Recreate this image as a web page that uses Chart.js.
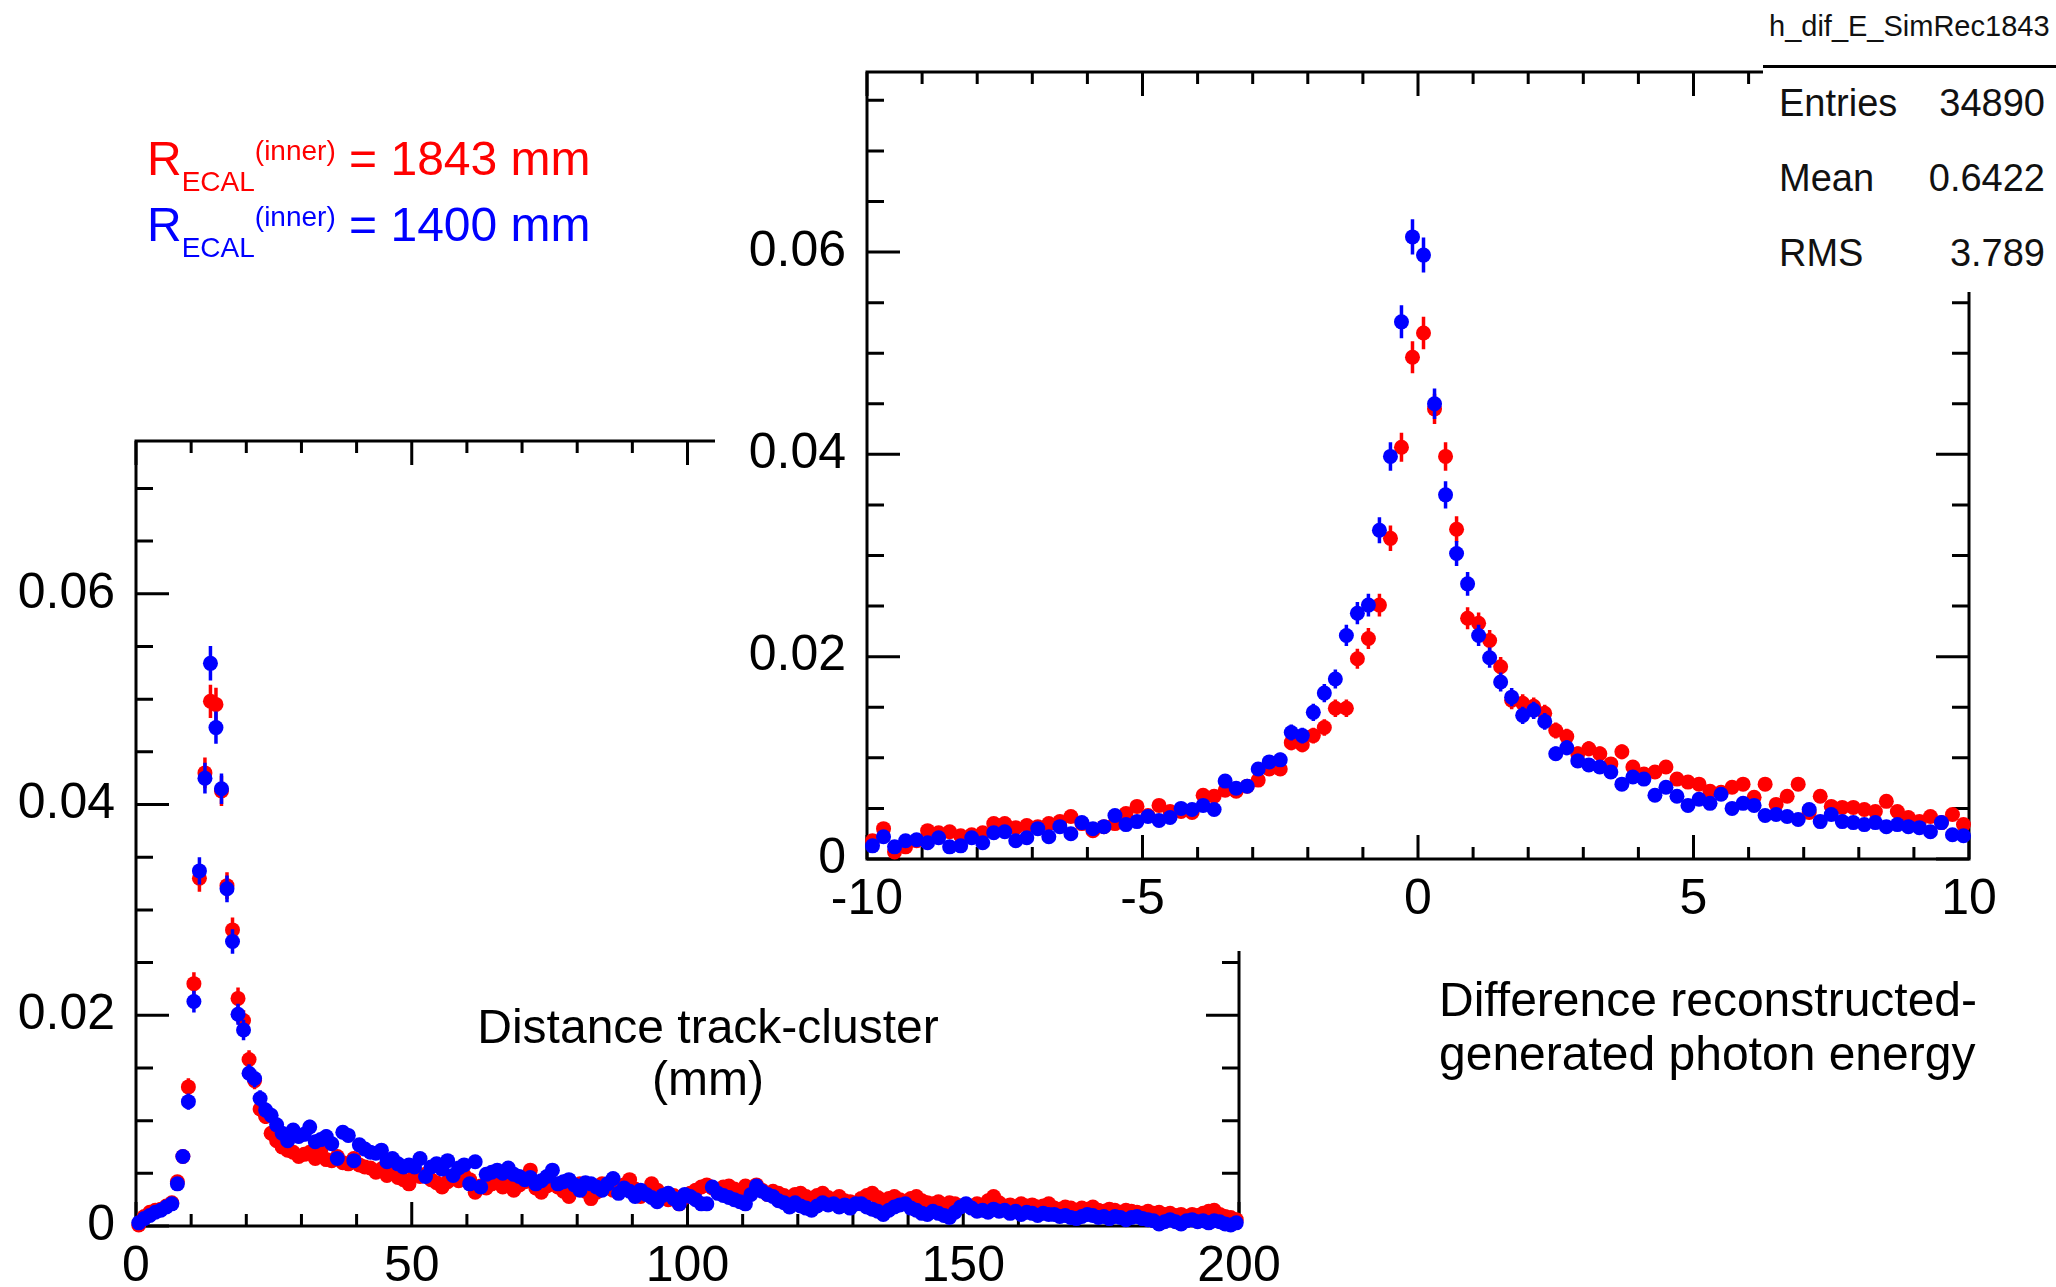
<!DOCTYPE html>
<html>
<head>
<meta charset="utf-8">
<script src="https://cdn.jsdelivr.net/npm/chart.js@4.4.1/dist/chart.umd.min.js"></script>
<style>
  body { margin: 0; background: #fff; font-family: 'Liberation Sans', Arial, sans-serif; }
  #page { position: relative; width: 2056px; height: 1287px; overflow: hidden; background: #fff; }
  .abs { position: absolute; white-space: nowrap; }
  .legend { font-size: 48px; line-height: 48px; }
  .legend .lo { position: relative; top: 16px; font-size: 28px; }
  .legend .hi { position: relative; top: -15px; font-size: 28px; }
  .note { font-size: 48px; color: #000; }
  .stat { font-size: 38px; line-height: 38px; color: #111; }
</style>
</head>
<body>
<div id="page">
  <canvas id="distPlot" class="abs" style="left:0;top:0" width="2056" height="1287"></canvas>

  <div class="abs legend" style="left:147px;top:135px;color:#ff0000">R<span class="lo">ECAL</span><span class="hi">(inner)</span> = 1843 mm</div>
  <div class="abs legend" style="left:147px;top:201px;color:#0000ff">R<span class="lo">ECAL</span><span class="hi">(inner)</span> = 1400 mm</div>

  <div class="abs note" style="left:458px;top:1001px;width:500px;text-align:center;line-height:52px">Distance track-cluster<br>(mm)</div>

  <div class="abs" style="left:715px;top:0;width:1341px;height:951px;background:#fff">
    <canvas id="energyPlot" width="1341" height="951"></canvas>
  </div>

  <div class="abs" style="left:1763px;top:0;width:293px;height:292px;background:#fff"></div>
  <div class="abs" style="left:1763px;top:65px;width:293px;height:3px;background:#000"></div>
  <div class="abs" style="left:1769px;top:12px;font-size:29px;line-height:29px;color:#111">h_dif_E_SimRec1843</div>
  <div class="abs stat" style="left:1779px;top:84px">Entries</div>
  <div class="abs stat" style="right:11px;top:84px">34890</div>
  <div class="abs stat" style="left:1779px;top:159px">Mean</div>
  <div class="abs stat" style="right:11px;top:159px">0.6422</div>
  <div class="abs stat" style="left:1779px;top:234px">RMS</div>
  <div class="abs stat" style="right:11px;top:234px">3.789</div>

  <div class="abs note" style="left:1439px;top:973px;line-height:54px">Difference reconstructed-<br>generated photon energy</div>
</div>

<script>
// distance track-cluster, 1 mm bins from 0 to 200
const distXMin = 0;
const distBinW = 1;
const distTicksX = [0, 50, 100, 150, 200];
const distTicksY = [0, 0.02, 0.04, 0.06];

const dist1400 = [
  0.0003, 0.0007, 0.0010, 0.0013, 0.0015, 0.0018, 0.0021, 0.0040, 0.0066, 0.0118,
  0.0213, 0.0337, 0.0425, 0.0534, 0.0473, 0.0415, 0.0320, 0.0270, 0.0201, 0.0186,
  0.0145, 0.0140, 0.0121, 0.0110, 0.0105, 0.0096, 0.0088, 0.0081, 0.0091, 0.0085,
  0.0087, 0.0094, 0.0080, 0.0082, 0.0085, 0.0078, 0.0064, 0.0089, 0.0086, 0.0062,
  0.0077, 0.0073, 0.0070, 0.0069, 0.0072, 0.0061, 0.0064, 0.0059, 0.0056, 0.0058,
  0.0056, 0.0064, 0.0047, 0.0056, 0.0059, 0.0054, 0.0062, 0.0048, 0.0055, 0.0058,
  0.0040, 0.0061, 0.0037, 0.0049, 0.0051, 0.0053, 0.0050, 0.0055, 0.0049, 0.0047,
  0.0044, 0.0046, 0.0040, 0.0043, 0.0047, 0.0053, 0.0040, 0.0042, 0.0044, 0.0039,
  0.0034, 0.0041, 0.0040, 0.0037, 0.0034, 0.0040, 0.0045, 0.0031, 0.0036, 0.0033,
  0.0028, 0.0034, 0.0030, 0.0027, 0.0023, 0.0029, 0.0031, 0.0026, 0.0021, 0.0030,
  0.0028, 0.0025, 0.0021, 0.0021, 0.0037, 0.0031, 0.0029, 0.0027, 0.0025, 0.0023,
  0.0021, 0.0030, 0.0038, 0.0033, 0.0030, 0.0028, 0.0024, 0.0022, 0.0018, 0.0022,
  0.0019, 0.0017, 0.0015, 0.0019, 0.0022, 0.0020, 0.0021, 0.0018, 0.0020, 0.0017,
  0.0021, 0.0021, 0.0018, 0.0016, 0.0014, 0.0011, 0.0015, 0.0018, 0.0020, 0.0021,
  0.0017, 0.0015, 0.0012, 0.0011, 0.0014, 0.0012, 0.0010, 0.0008, 0.0013, 0.0018,
  0.0021, 0.0017, 0.0014, 0.0015, 0.0013, 0.0016, 0.0014, 0.0015, 0.0012, 0.0014,
  0.0011, 0.0013, 0.0012, 0.0010, 0.0012, 0.0011, 0.0011, 0.0009, 0.0010, 0.0008,
  0.0007, 0.0009, 0.0011, 0.0010, 0.0008, 0.0009, 0.0007, 0.0009, 0.0008, 0.0006,
  0.0008, 0.0009, 0.0007, 0.0006, 0.0005, 0.0002, 0.0004, 0.0006, 0.0004, 0.0002,
  0.0005, 0.0006, 0.0004, 0.0005, 0.0003, 0.0005, 0.0004, 0.0002, 0.0001, 0.0003
];

const dist1843 = [
  0.0001, 0.0009, 0.0013, 0.0015, 0.0016, 0.0019, 0.0022, 0.0042, 0.0066, 0.0132,
  0.0230, 0.0330, 0.0430, 0.0498, 0.0495, 0.0413, 0.0323, 0.0281, 0.0216, 0.0195,
  0.0158, 0.0138, 0.0111, 0.0104, 0.0088, 0.0081, 0.0075, 0.0072, 0.0070, 0.0066,
  0.0068, 0.0070, 0.0064, 0.0072, 0.0063, 0.0062, 0.0066, 0.0060, 0.0059, 0.0064,
  0.0058, 0.0056, 0.0055, 0.0051, 0.0054, 0.0048, 0.0050, 0.0046, 0.0044, 0.0040,
  0.0052, 0.0047, 0.0049, 0.0044, 0.0041, 0.0037, 0.0042, 0.0045, 0.0043, 0.0048,
  0.0044, 0.0032, 0.0038, 0.0036, 0.0040, 0.0043, 0.0037, 0.0041, 0.0034, 0.0039,
  0.0042, 0.0053, 0.0036, 0.0032, 0.0038, 0.0041, 0.0037, 0.0033, 0.0028, 0.0035,
  0.0040, 0.0033, 0.0026, 0.0032, 0.0040, 0.0037, 0.0034, 0.0036, 0.0039, 0.0044,
  0.0035, 0.0028, 0.0033, 0.0040, 0.0034, 0.0030, 0.0025, 0.0029, 0.0021, 0.0027,
  0.0031, 0.0034, 0.0037, 0.0039, 0.0036, 0.0033, 0.0037, 0.0038, 0.0035, 0.0032,
  0.0038, 0.0036, 0.0039, 0.0034, 0.0030, 0.0033, 0.0031, 0.0029, 0.0027, 0.0030,
  0.0031, 0.0028, 0.0026, 0.0029, 0.0031, 0.0027, 0.0025, 0.0028, 0.0024, 0.0023,
  0.0021, 0.0026, 0.0029, 0.0031, 0.0027, 0.0024, 0.0026, 0.0028, 0.0025, 0.0023,
  0.0026, 0.0028, 0.0024, 0.0022, 0.0021, 0.0023, 0.0020, 0.0022, 0.0021, 0.0019,
  0.0020, 0.0018, 0.0021, 0.0019, 0.0024, 0.0028, 0.0022, 0.0019, 0.0020, 0.0018,
  0.0021, 0.0019, 0.0020, 0.0018, 0.0019, 0.0021, 0.0017, 0.0016, 0.0018, 0.0017,
  0.0015, 0.0017, 0.0016, 0.0018, 0.0015, 0.0014, 0.0016, 0.0015, 0.0013, 0.0015,
  0.0014, 0.0013, 0.0012, 0.0014, 0.0012, 0.0013, 0.0011, 0.0012, 0.0010, 0.0011,
  0.0009, 0.0011, 0.0010, 0.0012, 0.0014, 0.0015, 0.0011, 0.0009, 0.0008, 0.0006
];

// reconstructed - generated photon energy, 0.2 bins from -10 to 10
const eXMin = -10;
const eBinW = 0.2;
const eTicksX = [-10, -5, 0, 5, 10];
const eTicksY = [0, 0.02, 0.04, 0.06];

const e1400 = [
  0.0013, 0.0022, 0.0012, 0.0018, 0.0019, 0.0016, 0.0021, 0.0012, 0.0013, 0.0021,
  0.0016, 0.0026, 0.0027, 0.0018, 0.0021, 0.0030, 0.0022, 0.0032, 0.0025, 0.0036,
  0.0030, 0.0032, 0.0043, 0.0034, 0.0037, 0.0042, 0.0038, 0.0041, 0.0050, 0.0049,
  0.0053, 0.0049, 0.0077, 0.0070, 0.0072, 0.0089, 0.0096, 0.0098, 0.0125, 0.0122,
  0.0145, 0.0164, 0.0178, 0.0221, 0.0243, 0.0251, 0.0325, 0.0398, 0.0531, 0.0615,
  0.0597, 0.0450, 0.0360, 0.0302, 0.0272, 0.0221, 0.0199, 0.0175, 0.0160, 0.0142,
  0.0147, 0.0136, 0.0104, 0.0110, 0.0097, 0.0093, 0.0091, 0.0086, 0.0074, 0.0081,
  0.0079, 0.0063, 0.0071, 0.0062, 0.0053, 0.0059, 0.0055, 0.0064, 0.0050, 0.0055,
  0.0053, 0.0043, 0.0044, 0.0042, 0.0039, 0.0049, 0.0037, 0.0044, 0.0037, 0.0036,
  0.0034, 0.0036, 0.0032, 0.0034, 0.0032, 0.0031, 0.0027, 0.0036, 0.0024, 0.0023
];

const e1843 = [
  0.0018, 0.0030, 0.0007, 0.0012, 0.0018, 0.0028, 0.0026, 0.0027, 0.0023, 0.0024,
  0.0026, 0.0035, 0.0035, 0.0031, 0.0033, 0.0032, 0.0035, 0.0037, 0.0042, 0.0035,
  0.0028, 0.0032, 0.0035, 0.0045, 0.0052, 0.0043, 0.0053, 0.0047, 0.0047, 0.0046,
  0.0063, 0.0062, 0.0068, 0.0067, 0.0072, 0.0078, 0.0089, 0.0089, 0.0115, 0.0113,
  0.0122, 0.0130, 0.0149, 0.0149, 0.0198, 0.0218, 0.0251, 0.0317, 0.0407, 0.0496,
  0.0520, 0.0445, 0.0398, 0.0326, 0.0238, 0.0233, 0.0216, 0.0190, 0.0157, 0.0154,
  0.0151, 0.0144, 0.0127, 0.0121, 0.0104, 0.0109, 0.0104, 0.0094, 0.0106, 0.0091,
  0.0084, 0.0086, 0.0091, 0.0079, 0.0076, 0.0074, 0.0067, 0.0066, 0.0071, 0.0074,
  0.0061, 0.0074, 0.0054, 0.0062, 0.0074, 0.0046, 0.0062, 0.0052, 0.0051, 0.0051,
  0.0049, 0.0047, 0.0057, 0.0047, 0.0041, 0.0037, 0.0042, 0.0036, 0.0044, 0.0034
];

// effective count for the poisson error bars of the normalised histograms
const errCount = 20000;

Chart.defaults.font.family = "'Liberation Sans', Arial, sans-serif";
Chart.defaults.color = "#000";

function toPoints(values, xMin, binW) {
  return values.map((v, i) => ({ x: xMin + (i + 0.5) * binW, y: v }));
}

// ROOT style box with ticks pointing inwards on all four sides
const rootFrame = {
  id: "rootFrame",
  beforeDatasetsDraw(chart, args, opts) {
    const { ctx, chartArea: a, scales } = chart;
    const x = scales.x, y = scales.y;
    ctx.save();
    ctx.strokeStyle = "#000";
    ctx.lineWidth = 3;
    ctx.beginPath();
    for (let i = Math.ceil(x.min / opts.xMinor - 1e-9); i * opts.xMinor <= x.max + 1e-9; i++) {
      const v = i * opts.xMinor;
      const px = x.getPixelForValue(v);
      const big = Math.abs(v / opts.xMajor - Math.round(v / opts.xMajor)) < 1e-6;
      const len = big ? opts.xMajLen : opts.xMinLen;
      ctx.moveTo(px, a.bottom); ctx.lineTo(px, a.bottom - len);
      ctx.moveTo(px, a.top); ctx.lineTo(px, a.top + len);
    }
    for (let i = Math.ceil(y.min / opts.yMinor - 1e-9); i * opts.yMinor <= y.max + 1e-9; i++) {
      const v = i * opts.yMinor;
      const py = y.getPixelForValue(v);
      const big = Math.abs(v / opts.yMajor - Math.round(v / opts.yMajor)) < 1e-6;
      const len = big ? opts.yMajLen : opts.yMinLen;
      ctx.moveTo(a.left, py); ctx.lineTo(a.left + len, py);
      ctx.moveTo(a.right, py); ctx.lineTo(a.right - len, py);
    }
    ctx.stroke();
    ctx.strokeRect(a.left, a.top, a.right - a.left, a.bottom - a.top);
    ctx.restore();
  }
};

const errorBars = {
  id: "errorBars",
  beforeDatasetDraw(chart, args, opts) {
    const ds = chart.data.datasets[args.index];
    const { ctx, scales } = chart;
    ctx.save();
    ctx.strokeStyle = ds.backgroundColor;
    ctx.lineWidth = opts.width;
    ctx.beginPath();
    ds.data.forEach((p) => {
      const e = Math.sqrt(Math.max(p.y, 0) / opts.n);
      const px = scales.x.getPixelForValue(p.x);
      ctx.moveTo(px, scales.y.getPixelForValue(p.y - e));
      ctx.lineTo(px, scales.y.getPixelForValue(p.y + e));
    });
    ctx.stroke();
    ctx.restore();
  }
};

function makePlot(id, blue, red, xMin, binW, s) {
  const series = (vals, col) => ({
    data: toPoints(vals, xMin, binW),
    backgroundColor: col,
    borderWidth: 0,
    pointRadius: 7.5,
    pointHoverRadius: 7.5,
    showLine: false,
    clip: false
  });
  return new Chart(document.getElementById(id), {
    type: "scatter",
    data: { datasets: [series(blue, "#0000ff"), series(red, "#ff0000")] },
    options: {
      responsive: false,
      animation: false,
      events: [],
      layout: { padding: s.padding },
      plugins: {
        legend: { display: false },
        tooltip: { enabled: false },
        rootFrame: s.frame,
        errorBars: { n: errCount, width: 3.5 }
      },
      scales: {
        x: {
          type: "linear", min: s.xRange[0], max: s.xRange[1],
          grid: { display: false, drawTicks: false }, border: { display: false },
          afterBuildTicks: (ax) => { ax.ticks = s.xTicks.map((v) => ({ value: v })); },
          afterFit: (ax) => { ax.height = s.xHeight; },
          ticks: { font: { size: 50 }, color: "#000", padding: 11, maxRotation: 0, autoSkip: false,
                   callback: (v) => String(v) }
        },
        y: {
          type: "linear", min: 0, max: s.yMax,
          grid: { display: false, drawTicks: false }, border: { display: false },
          afterBuildTicks: (ax) => { ax.ticks = s.yTicks.map((v) => ({ value: v })); },
          afterFit: (ax) => { ax.width = s.yWidth; },
          ticks: { font: { size: 50 }, color: "#000", padding: 21, autoSkip: false,
                   callback: (v) => String(v) }
        }
      }
    },
    plugins: [rootFrame, errorBars]
  });
}

makePlot("distPlot", dist1400, dist1843, distXMin, distBinW, {
  padding: { left: 0, top: 441, right: 817, bottom: 0 },
  xRange: [0, 200], yMax: 0.0745,
  xTicks: distTicksX, yTicks: distTicksY,
  xHeight: 61, yWidth: 136,
  frame: { xMinor: 10, xMajor: 50, yMinor: 0.005, yMajor: 0.02,
           xMajLen: 24, xMinLen: 12, yMajLen: 33, yMinLen: 17 }
});

makePlot("energyPlot", e1400, e1843, eXMin, eBinW, {
  padding: { left: 0, top: 72, right: 87, bottom: 0 },
  xRange: [-10, 10], yMax: 0.0778,
  xTicks: eTicksX, yTicks: eTicksY,
  xHeight: 92, yWidth: 152,
  frame: { xMinor: 1, xMajor: 5, yMinor: 0.005, yMajor: 0.02,
           xMajLen: 24, xMinLen: 12, yMajLen: 33, yMinLen: 17 }
});
</script>
</body>
</html>
